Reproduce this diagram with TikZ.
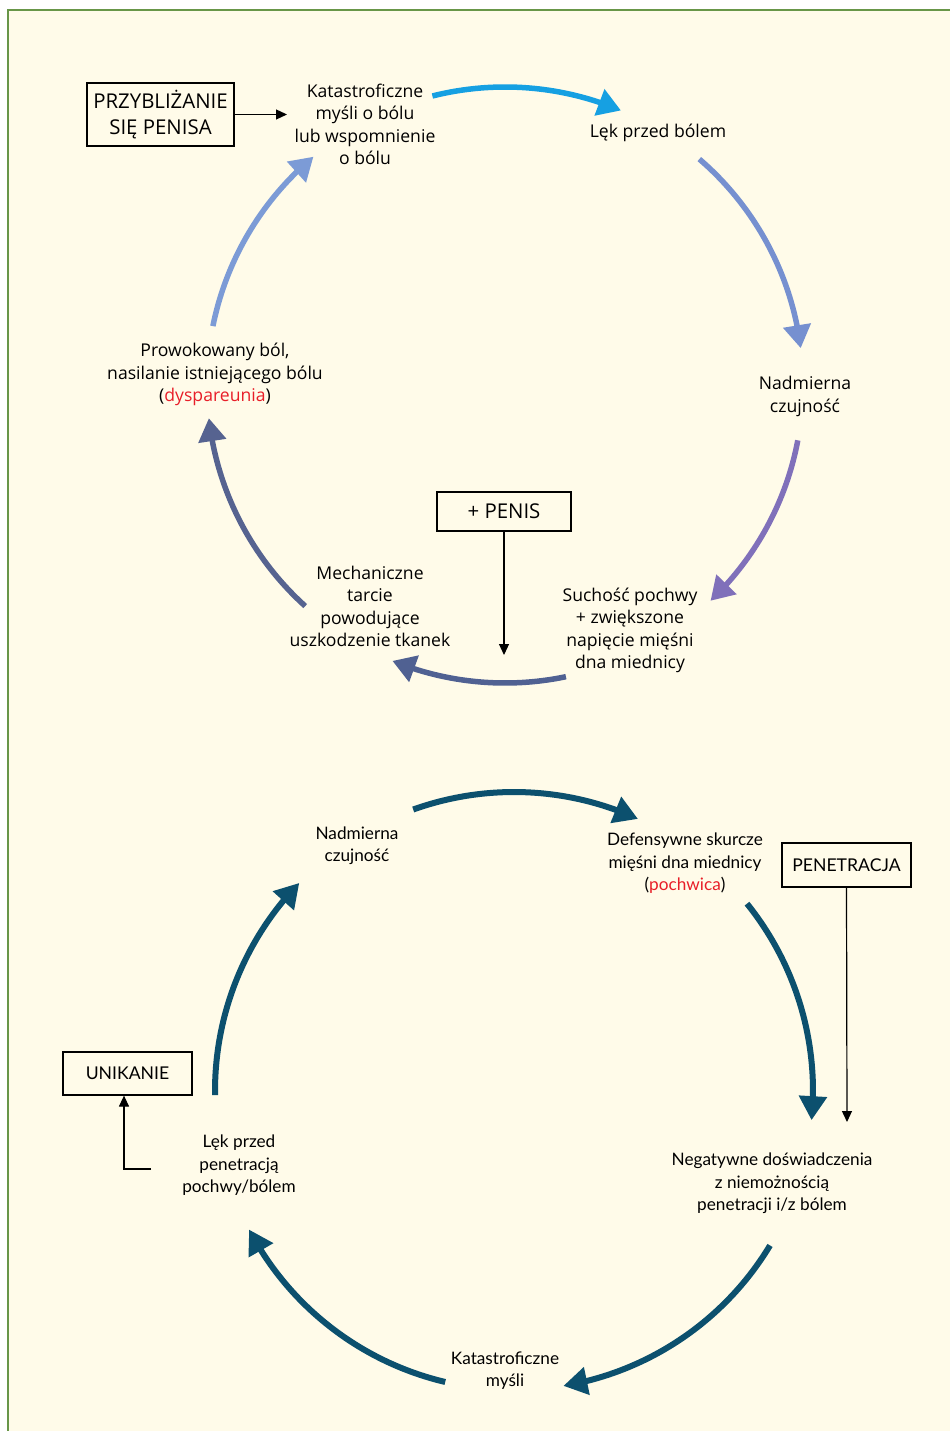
\documentclass[tikz,border=0pt]{standalone}
\usepackage{fontspec}
\setmainfont{Open Sans}
\newfontfamily\topf{Open Sans}
\newfontfamily\botf{Lato}
\usetikzlibrary{arrows.meta,bending,calc}
\definecolor{bgcream}{RGB}{255,251,233}
\definecolor{framegreen}{RGB}{104,150,72}
\definecolor{cA}{RGB}{22,160,226}
\definecolor{cB}{RGB}{118,144,208}
\definecolor{cC}{RGB}{128,112,186}
\definecolor{cD}{RGB}{80,97,146}
\definecolor{cE}{RGB}{86,99,144}
\definecolor{cF}{RGB}{124,155,214}
\definecolor{cBot}{RGB}{12,80,110}
\definecolor{redtxt}{RGB}{232,30,40}
\tikzset{
  toptxt/.style={align=center,font=\topf\fontsize{17.6}{22.5}\selectfont,inner sep=2pt},
  bottxt/.style={align=center,font=\botf\fontsize{17.2}{22.5}\selectfont,inner sep=2pt},
  topbox/.style={draw,line width=1.2pt,align=center,inner sep=0pt,font=\topf\fontsize{20.4}{26}\selectfont},
  botbox/.style={draw,line width=1.2pt,align=center,inner sep=0pt,font=\botf\fontsize{17.6}{22}\selectfont},
  thinarr/.style={line width=1.2pt,-{Triangle[length=11pt,width=10pt]}},
  bigarr/.style={line width=5.5pt,-{Triangle[length=23pt,width=27pt,flex]}},
  botarr/.style={line width=6pt,cBot,-{Triangle[length=24pt,width=27pt,flex]}}
}
\begin{document}
\begin{tikzpicture}[x=1pt,y=-1pt]
\useasboundingbox (0,0) rectangle (950,1431);
\fill[white] (0,0) rectangle (950,1431);
\fill[bgcream] (8,10) rectangle (950,1431);
\draw[framegreen,line width=2.2pt] (8,1431) -- (8,10) -- (950,10);

% ---------- top cycle ----------
\coordinate (C1) at (505,385);
\node[topbox,minimum width=147pt,minimum height=63pt] (przyb) at (160.5,114.5) {PRZYBLIŻANIE\\SIĘ PENISA};
\node[toptxt] (kat) at (365,124.5) {Katastroficzne\\myśli o bólu\\lub wspomnienie\\o bólu};
\node[toptxt] (lek) at (658,133) {Lęk przed bólem};
\node[toptxt] (nadm) at (805,396.5) {Nadmierna\\czujność};
\node[toptxt] (such) at (630,630.5) {Suchość pochwy\\+ zwiększone\\napięcie mięśni\\dna miednicy};
\node[topbox,minimum width=134pt,minimum height=39pt] (penis) at (504,511.5) {+ PENIS};
\node[toptxt] (mech) at (370,606.5) {Mechaniczne\\tarcie\\powodujące\\uszkodzenie tkanek};
\node[toptxt] (prow) at (215,374.5) {Prowokowany ból,\\nasilanie istniejącego bólu\\(\textcolor{redtxt}{dyspareunia})};

\coordinate (katin) at (287,114.5);
\coordinate (penisend) at (504,655);
\draw[thinarr] (przyb.east) -- (katin);
\draw[thinarr] (penis.south) -- (penisend);

\draw[bigarr,cA] ($(C1)+(-104.1:298)$) arc[start angle=-104.1,end angle=-67.1,radius=298];
\draw[bigarr,cB] ($(C1)+(-49.3:298)$) arc[start angle=-49.3,end angle=-7.1,radius=298];
\draw[bigarr,cC] ($(C1)+(10.7:298)$) arc[start angle=10.7,end angle=46.4,radius=298];
\draw[bigarr,cD] ($(C1)+(78.2:298)$) arc[start angle=78.2,end angle=112.2,radius=298];
\draw[bigarr,cE] ($(C1)+(132.1:298)$) arc[start angle=132.1,end angle=173.6,radius=298];
\draw[bigarr,cF] ($(C1)+(-168.6:298)$) arc[start angle=-168.6,end angle=-130,radius=298];

% ---------- bottom cycle ----------
\coordinate (C2) at (514,1091);
\node[bottxt] (nadm2) at (357,845.5) {Nadmierna\\czujność};
\node[bottxt] (def) at (685,863.5) {Defensywne skurcze\\mięśni dna miednicy\\(\textcolor{redtxt}{pochwica})};
\node[botbox,minimum width=129pt,minimum height=44pt] (penet) at (846.5,865) {PENETRACJA};
\node[bottxt] (neg) at (772,1183.5) {Negatywne doświadczenia\\z niemożnością\\penetracji i/z bólem};
\node[bottxt] (kat2) at (505,1370.5) {Katastroficzne\\myśli};
\node[bottxt] (lek2) at (239,1165.5) {Lęk przed\\penetracją\\pochwy/bólem};
\node[botbox,minimum width=129pt,minimum height=43pt] (unik) at (127.5,1073.5) {UNIKANIE};

\coordinate (penetend) at (847,1122);
\coordinate (ustart) at (151,1169);
\draw[thinarr] (penet.south) -- (penetend);
\draw[thinarr] (ustart) -| ([xshift=-3.5pt]unik.south);

\draw[botarr] ($(C2)+(-109.7:299)$) arc[start angle=-109.7,end angle=-65.5,radius=299];
\draw[botarr] ($(C2)+(-38.8:299)$) arc[start angle=-38.8,end angle=5.6,radius=299];
\draw[botarr] ($(C2)+(31.1:299)$) arc[start angle=31.1,end angle=80.5,radius=299];
\draw[botarr] ($(C2)+(103.3:299)$) arc[start angle=103.3,end angle=152.4,radius=299];
\draw[botarr] ($(C2)+(179.2:299)$) arc[start angle=179.2,end angle=224.1,radius=299];
\end{tikzpicture}
\end{document}
